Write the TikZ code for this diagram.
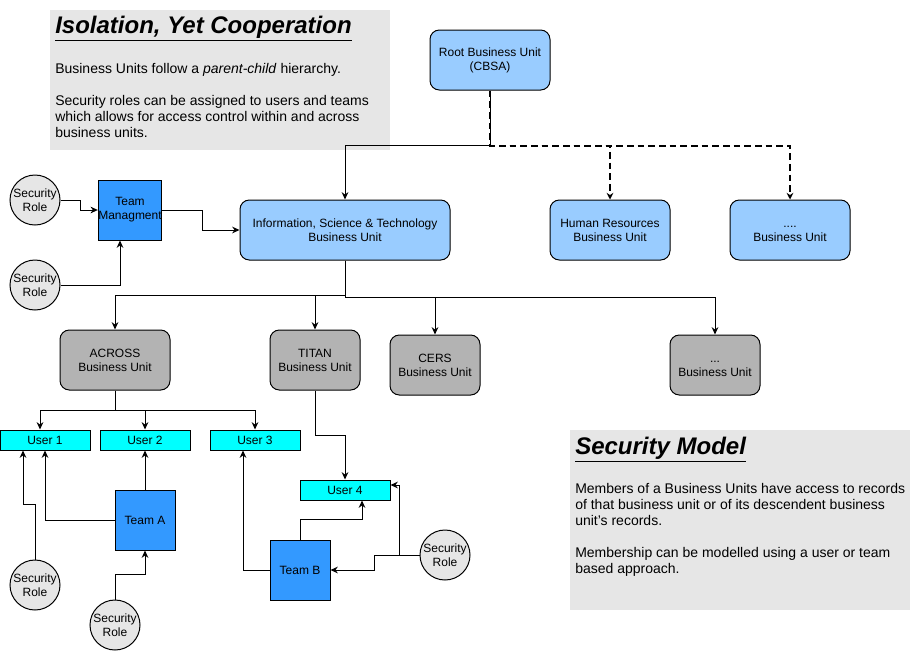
\documentclass[tikz,border=0pt]{standalone}
\usepackage{fontspec}
\setmainfont{Liberation Sans}
\usetikzlibrary{arrows.meta}

\definecolor{paleblue}{HTML}{99CCFF}
\definecolor{teamblue}{HTML}{3399FF}
\definecolor{unitgray}{HTML}{B3B3B3}
\definecolor{notegray}{HTML}{E6E6E6}
\definecolor{usercyan}{HTML}{00FFFF}

\begin{document}
\begin{tikzpicture}[x=0.75pt,y=-0.75pt,
	font=\fontsize{9}{10.5}\selectfont,
	bluebox/.style={draw,line width=0.75pt,rounded corners=7pt,fill=paleblue,minimum width=90pt,minimum height=45pt,align=center},
	graybox/.style={draw,line width=0.75pt,rounded corners=7pt,fill=unitgray,minimum width=67.5pt,minimum height=45pt,align=center},
	teambox/.style={draw,line width=0.75pt,fill=teamblue,minimum width=45pt,minimum height=45pt,inner sep=0pt,align=center},
	userbox/.style={draw,line width=0.75pt,fill=usercyan,minimum width=67.5pt,minimum height=15pt,inner sep=0pt},
	rolecircle/.style={draw,line width=0.75pt,circle,fill=notegray,minimum size=37.5pt,inner sep=0pt,align=center},
	link/.style={line width=0.75pt,-{Stealth[length=5.5pt,width=5pt]}},
	dlink/.style={line width=1.5pt,dash pattern=on 5pt off 3pt,-{Stealth[length=5pt,width=5pt]}},
	notetitle/.style={font=\fontsize{18}{21}\selectfont\bfseries\itshape},
	notetext/.style={inner sep=0pt,align=left,font=\fontsize{10.5}{12}\selectfont}]
	\useasboundingbox (0,0) rectangle (911,651);

	% note boxes
	\fill[notegray] (50,10) rectangle (390,150);
	\fill[notegray] (570,430) rectangle (910,610);
	\node[notetitle,anchor=west,inner sep=0pt] (isoTitle) at (55,29) {\underline{Isolation, Yet Cooperation}};
	\node[notetext,anchor=north west] (isoText) at (55,63) {Business Units follow a \textit{parent-child} hierarchy.\\[12pt]
		Security roles can be assigned to users and teams\\which allows for access control within and across\\business units.};
	\node[notetitle,anchor=west,inner sep=0pt] (secTitle) at (575,450) {\underline{Security Model}};
	\node[notetext,anchor=north west] (secText) at (575,483) {Members of a Business Units have access to records\\of that business unit or of its descendent business\\unit's records.\\[12pt]
		Membership can be modelled using a user or team\\based approach.};

	% business units
	\node[bluebox] (root) at (490,60) {Root Business Unit\\(CBSA)};
	\node[bluebox,minimum width=157.5pt] (ist) at (345,230) {Information, Science \& Technology\\Business Unit};
	\node[bluebox] (hr) at (610,230) {Human Resources\\Business Unit};
	\node[bluebox] (otherTop) at (790,230) {....\strut\\Business Unit};
	\node[graybox,minimum width=82.5pt] (across) at (115,360) {ACROSS\\Business Unit};
	\node[graybox] (titan) at (315,360) {TITAN\\Business Unit};
	\node[graybox] (cers) at (435,365) {CERS\\Business Unit};
	\node[graybox] (otherLow) at (715,365) {...\strut\\Business Unit};

	% teams and users
	\node[teambox] (mgmt) at (130,210) {Team\\Managment};
	\node[teambox] (teamA) at (145,520) {Team A};
	\node[teambox] (teamB) at (300,570) {Team B};
	\node[userbox] (user1) at (45,440) {User 1};
	\node[userbox] (user2) at (145,440) {User 2};
	\node[userbox] (user3) at (255,440) {User 3};
	\node[userbox] (user4) at (345,490) {User 4};

	% security roles
	\node[rolecircle] (roleA) at (35,200) {Security\\Role};
	\node[rolecircle] (roleB) at (35,285) {Security\\Role};
	\node[rolecircle] (roleC) at (35,585) {Security\\Role};
	\node[rolecircle] (roleD) at (115,625) {Security\\Role};
	\node[rolecircle] (roleE) at (445,555) {Security\\Role};

	% hierarchy
	\draw[dlink] (root.south) -- ++(0,55) -| (hr.north);
	\draw[dlink] (root.south) -- ++(0,55) -| (otherTop.north);
	\draw[link] (root.south) -- ++(0,55) -| (ist.north);
	\draw[link] (ist.south) -- ++(0,35) -| (across.north);
	\draw[link] (ist.south) -- ++(0,35) -| (titan.north);
	\draw[link] (ist.south) -- ++(0,37) -| (cers.north);
	\draw[link] (ist.south) -- ++(0,37) -| (otherLow.north);
	\draw[link] (across.south) -- ++(0,20) -| ([xshift=-3.75pt]user1.north);
	\draw[link] (across.south) -- ++(0,20) -| (user2.north);
	\draw[link] (across.south) -- ++(0,20) -| (user3.north);
	\draw[link] (titan.south) -- ++(0,45) -| (user4.north);

	% memberships
	\draw[link] (roleA.east) -- ++(20,0) |- (mgmt.west);
	\draw[link] (roleB.east) -| ([xshift=-7.5pt]mgmt.south);
	\draw[link] (mgmt.east) -- ++(40,0) |- (ist.west);
	\draw[link] (teamA.north) -- (user2.south);
	\draw[link] (teamA.west) -| (user1.south);
	\draw[link] (roleC.north) -- ++(0,-55) -| ([xshift=-16.5pt]user1.south);
	\draw[link] (roleD.north) -- ++(0,-25) -| (teamA.south);
	\draw[link] (teamB.west) -| ([xshift=-9pt]user3.south);
	\draw[link] (teamB.north) -- ++(0,-20) -| ([xshift=12.75pt]user4.south);
	\draw[link] (roleE.west) -- ++(-20,0) |- ([yshift=3.75pt]user4.east);
	\draw[link] (roleE.west) -- ++(-45,0) |- (teamB.east);
\end{tikzpicture}
\end{document}
